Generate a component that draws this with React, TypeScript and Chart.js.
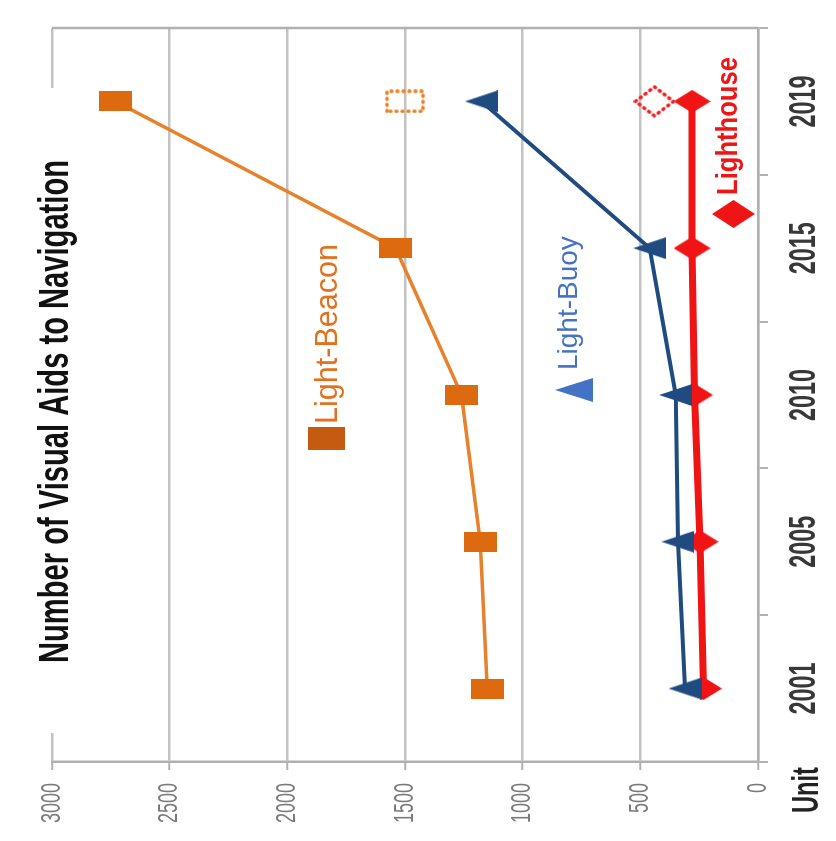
import React, { useEffect, useRef } from 'react';
import { Chart, registerables } from 'chart.js';

Chart.register(...registerables);

// ---- data ----
const years = ['2001', '2005', '2010', '2015', '2019'];
const lightBeacon = [1150, 1180, 1260, 1540, 2730];
const lightBuoy = [310, 340, 350, 460, 1175];
const lighthouse = [232, 246, 270, 280, 280];
const lightBeaconDotted2019 = [null, null, null, null, 1500];
const lighthouseDotted2019 = [null, null, null, null, 440];
const valueTickLabels = ['0', '500', '1000', '1500', '2000', '2500', '3000'];
const seriesNames = ['Light-Beacon', 'Light-Buoy', 'Lighthouse'];
const titleText = 'Number of Visual Aids to Navigation';
const unitText = 'Unit';

const NARROW = "'Liberation Sans Narrow','Liberation Sans',Arial,sans-serif";
const SANS = "'Liberation Sans',Arial,sans-serif";

function makeMarker(shape: 'rect' | 'tri' | 'diamond', w: number, h: number, color: string, dotted = false) {
  const c = document.createElement('canvas');
  c.width = w;
  c.height = h;
  const ctx = c.getContext('2d')!;
  const i = dotted ? 2 : 0;
  ctx.beginPath();
  if (shape === 'rect') {
    ctx.rect(i, i, w - 2 * i, h - 2 * i);
  } else if (shape === 'tri') {
    ctx.moveTo(w / 2, i);
    ctx.lineTo(w - i, h - i);
    ctx.lineTo(i, h - i);
    ctx.closePath();
  } else {
    ctx.moveTo(w / 2, i);
    ctx.lineTo(w - i, h / 2);
    ctx.lineTo(w / 2, h - i);
    ctx.lineTo(i, h / 2);
    ctx.closePath();
  }
  if (dotted) {
    ctx.setLineDash([1, 5]);
    ctx.lineWidth = 3.5;
    ctx.lineCap = 'round';
    ctx.strokeStyle = color;
    ctx.stroke();
  } else {
    ctx.fillStyle = color;
    ctx.fill();
  }
  return c;
}

const decoPlugin = {
  id: 'deco',
  afterDraw(chart: any) {
    const ctx: CanvasRenderingContext2D = chart.ctx;
    const xs = chart.scales.x;
    const ys = chart.scales.y;
    const a = chart.chartArea;
    ctx.save();
    // right border of the plot
    ctx.strokeStyle = '#b0b0b0';
    ctx.lineWidth = 2.5;
    ctx.beginPath();
    ctx.moveTo(a.right, a.top);
    ctx.lineTo(a.right, a.bottom);
    ctx.stroke();

    // white box behind title
    ctx.fillStyle = '#ffffff';
    ctx.fillRect(108, 42, 645, 20);

    // title
    ctx.fillStyle = '#111111';
    ctx.font = `bold 42px ${NARROW}`;
    ctx.textAlign = 'center';
    ctx.textBaseline = 'alphabetic';
    ctx.fillText(titleText, 429.5, 68, 503);

    // value tick labels
    ctx.fillStyle = '#7a7a7a';
    ctx.font = `28px ${NARROW}`;
    ctx.textAlign = 'right';
    ctx.textBaseline = 'middle';
    valueTickLabels.forEach((t) => {
      const py = ys.getPixelForValue(Number(t));
      ctx.fillText(t, 58, py, t.length * 10);
    });

    // category labels
    ctx.fillStyle = '#383838';
    ctx.font = `bold 36px ${NARROW}`;
    ctx.textAlign = 'center';
    ctx.textBaseline = 'alphabetic';
    years.forEach((yr, i) => {
      const px = xs.getPixelForTick(i);
      ctx.fillText(yr, px, 815, 52);
    });

    // Unit
    ctx.fillStyle = '#222222';
    ctx.font = `bold 36px ${NARROW}`;
    ctx.textAlign = 'center';
    ctx.fillText(unitText, 51, 818, 46);

    // legend: Light-Beacon
    ctx.fillStyle = '#C55A11';
    ctx.fillRect(391, 308, 23, 37);
    ctx.fillStyle = '#E2701C';
    ctx.font = `31px ${SANS}`;
    ctx.textAlign = 'left';
    ctx.fillText(seriesNames[0], 417, 337, 180);

    // legend: Light-Buoy
    ctx.fillStyle = '#4472C4';
    ctx.beginPath();
    ctx.moveTo(451, 555);
    ctx.lineTo(463, 593);
    ctx.lineTo(439, 593);
    ctx.closePath();
    ctx.fill();
    ctx.font = `28px ${SANS}`;
    ctx.fillText(seriesNames[1], 471, 577, 153);

    // legend: Lighthouse
    ctx.fillStyle = '#F01515';
    ctx.beginPath();
    ctx.moveTo(627, 712);
    ctx.lineTo(641, 733.5);
    ctx.lineTo(627, 755);
    ctx.lineTo(613, 733.5);
    ctx.closePath();
    ctx.fill();
    ctx.font = `bold 30px ${SANS}`;
    ctx.fillText(seriesNames[2], 646, 737, 138);

    ctx.restore();
  },
};

export default function App() {
  const ref = useRef<HTMLCanvasElement | null>(null);

  useEffect(() => {
    if (!ref.current) return;
    const sq = makeMarker('rect', 20, 33, '#DD6A0E');
    const tri = makeMarker('tri', 22, 33, '#1F4B80');
    const dia = makeMarker('diamond', 23, 37, '#F01414');
    const dsq = makeMarker('rect', 24, 40, '#F08020', true);
    const ddia = makeMarker('diamond', 33, 42, '#F02020', true);

    const chart = new Chart(ref.current, {
      type: 'line',
      data: {
        labels: years,
        datasets: [
          {
            label: seriesNames[0],
            data: lightBeacon,
            borderColor: '#E8812C',
            borderWidth: 3.5,
            pointStyle: sq as any,
            pointRadius: 10,
            tension: 0,
            clip: false as any,
            order: 1,
          },
          {
            label: seriesNames[1],
            data: lightBuoy,
            borderColor: '#1F4B80',
            borderWidth: 4,
            pointStyle: tri as any,
            pointRadius: 10,
            tension: 0,
            clip: false as any,
            order: 1,
          },
          {
            label: seriesNames[2],
            data: lighthouse,
            borderColor: '#F01414',
            borderWidth: 7,
            pointStyle: dia as any,
            pointRadius: 10,
            tension: 0,
            clip: false as any,
            order: 2,
          },
          {
            label: seriesNames[0] + ' (2019, dotted)',
            data: lightBeaconDotted2019 as any,
            showLine: false,
            pointStyle: dsq as any,
            pointRadius: 10,
            clip: false as any,
            order: 1,
          },
          {
            label: seriesNames[2] + ' (2019, dotted)',
            data: lighthouseDotted2019 as any,
            showLine: false,
            pointStyle: ddia as any,
            pointRadius: 10,
            clip: false as any,
            order: 1,
          },
        ],
      },
      options: {
        responsive: false,
        animation: false,
        devicePixelRatio: 1,
        layout: { padding: { left: 71, right: 28, top: 52, bottom: 68 } },
        plugins: {
          legend: { display: false },
          title: { display: false },
          tooltip: { enabled: false },
        },
        scales: {
          x: {
            type: 'category',
            offset: true,
            grid: {
              offset: true,
              drawOnChartArea: false,
              drawTicks: true,
              tickLength: 10,
              color: '#b0b0b0',
              lineWidth: 2,
            },
            border: { display: true, color: '#b0b0b0', width: 2.5 },
            ticks: { display: false },
          },
          y: {
            min: 0,
            max: 3000,
            ticks: { display: false, stepSize: 500 },
            grid: {
              color: '#c3c3c3',
              lineWidth: 2.5,
              tickLength: 8,
              tickColor: '#b0b0b0',
              tickWidth: 2,
            },
            border: { display: true, color: '#b0b0b0', width: 2.5 },
          },
        },
      } as any,
      plugins: [decoPlugin],
    });
    return () => chart.destroy();
  }, []);

  return (
    <div
      style={{
        position: 'fixed',
        left: 0,
        top: 0,
        width: 836,
        height: 841,
        overflow: 'hidden',
        background: '#ffffff',
      }}
    >
      <canvas
        ref={ref}
        width={841}
        height={836}
        style={{
          position: 'absolute',
          left: 0,
          top: 0,
          width: '841px',
          height: '836px',
          transformOrigin: '0 0',
          transform: 'translate(0px, 841px) rotate(-90deg)',
        }}
      />
    </div>
  );
}
